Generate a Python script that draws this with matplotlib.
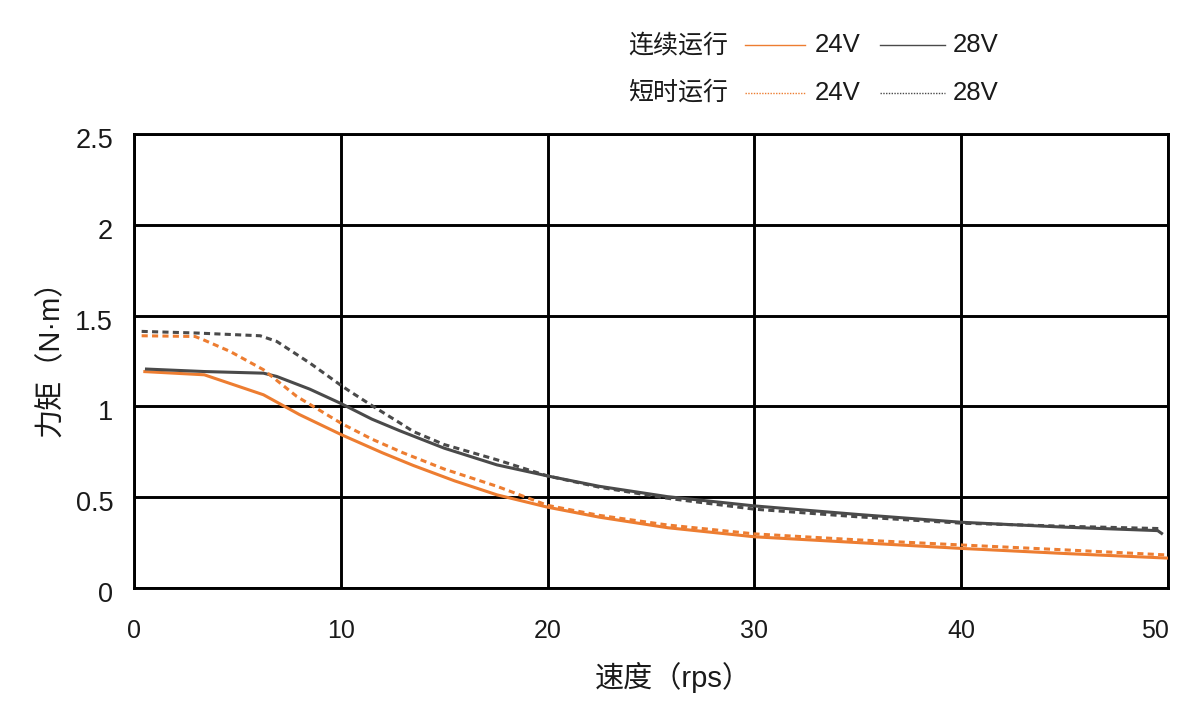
import matplotlib
matplotlib.use("Agg")
import matplotlib.pyplot as plt
from matplotlib.lines import Line2D
from matplotlib.transforms import ScaledTranslation

plt.rcParams['font.family'] = ['Liberation Sans', 'Noto Sans CJK SC', 'DejaVu Sans']

# ---- data (speed in rps, torque in N·m) ----
cont24_x = [0.45, 3.4, 6.26, 8.0, 10.05, 12.0, 13.5, 15.5, 17.55, 20.0, 22.5, 25.8, 30.0, 35.0, 40.0, 45.0, 50.3]
cont24_y = [1.192, 1.174, 1.064, 0.955, 0.843, 0.745, 0.675, 0.59, 0.513, 0.445, 0.39, 0.332, 0.282, 0.25, 0.218, 0.19, 0.163]

cont28_x = [0.53, 3.4, 6.26, 6.9, 8.5, 9.97, 11.5, 12.87, 15.0, 17.55, 20.0, 22.5, 25.8, 30.0, 35.0, 40.0, 45.0, 49.5, 49.75]
cont28_y = [1.206, 1.192, 1.183, 1.165, 1.095, 1.018, 0.93, 0.865, 0.77, 0.678, 0.617, 0.56, 0.503, 0.452, 0.405, 0.362, 0.335, 0.316, 0.296]

short24_x = [0.37, 2.95, 3.35, 4.64, 6.26, 7.87, 9.48, 10.05, 11.5, 13.0, 15.0, 17.55, 20.0, 22.5, 25.8, 30.0, 35.0, 40.0, 45.0, 50.3]
short24_y = [1.389, 1.385, 1.367, 1.303, 1.202, 1.055, 0.944, 0.905, 0.82, 0.745, 0.655, 0.56, 0.455, 0.4, 0.347, 0.298, 0.265, 0.237, 0.21, 0.18]

short28_x = [0.37, 3.03, 6.1, 6.9, 8.5, 9.97, 10.45, 11.58, 12.87, 13.5, 15.0, 17.55, 20.0, 22.5, 25.8, 30.0, 35.0, 40.0, 45.0, 49.7]
short28_y = [1.413, 1.404, 1.389, 1.358, 1.239, 1.119, 1.082, 0.999, 0.908, 0.862, 0.79, 0.706, 0.617, 0.555, 0.494, 0.434, 0.392, 0.357, 0.34, 0.327]

x_ticks = [0, 10, 20, 30, 40, 50]
y_ticks = [0, 0.5, 1, 1.5, 2, 2.5]
y_tick_labels = ['0', '0.5', '1', '1.5', '2', '2.5']

ORANGE = '#ED7D31'
GRAY = '#4A4A4A'
TXT = '#1a1a1a'

fig = plt.figure(figsize=(12, 7.14), dpi=100)
ax = fig.add_axes([134/1200, 1 - 588/714, (1168-134)/1200, (588-134)/714])

lw = 2.2
ax.plot(cont24_x, cont24_y, color=ORANGE, lw=lw, solid_capstyle='butt', zorder=3)
ax.plot(cont28_x, cont28_y, color=GRAY, lw=lw, solid_capstyle='butt', zorder=3)
ax.plot(short24_x, short24_y, color=ORANGE, lw=lw, linestyle=(0, (2.0, 1.4)), zorder=3)
ax.plot(short28_x, short28_y, color=GRAY, lw=lw, linestyle=(0, (2.0, 1.4)), zorder=3)

ax.set_xlim(0, 50)
ax.set_ylim(0, 2.5)
ax.set_xticks(x_ticks)
ax.set_yticks(y_ticks)
ax.set_yticklabels(y_tick_labels)
ax.grid(True, color='black', lw=2.1, zorder=1)
ax.set_axisbelow(True)
for s in ax.spines.values():
    s.set_color('black')
    s.set_linewidth(2.1)
ax.tick_params(axis='x', length=0, pad=22, labelsize=18, colors=TXT)
ax.tick_params(axis='y', length=0, pad=15, labelsize=19.5, colors=TXT)
for lab in ax.get_yticklabels():
    lab.set_transform(lab.get_transform() + ScaledTranslation(0, -4/100, fig.dpi_scale_trans))
xl = ax.get_xticklabels()
xl[-1].set_transform(xl[-1].get_transform() + ScaledTranslation(-13/100, 0, fig.dpi_scale_trans))
ax.set_xlabel('速度（rps）', fontsize=21, labelpad=14, color=TXT)
ax.set_ylabel('力矩（N·m）', fontsize=21, labelpad=8, color=TXT)
ax.xaxis.label.set_x(0.522)
ax.yaxis.label.set_y(0.522)

# ---- legend (manual, figure coordinates) ----
def fy(py):
    return 1 - py / 714

def fx(px):
    return px / 1200

rows = [(45, '连续运行', '-'), (93, '短时运行', (0, (1, 1)))]
for py, label, ls in rows:
    fig.text(fx(628), fy(py), label, fontsize=18, va='center', ha='left', color=TXT)
    fig.add_artist(Line2D([fx(745), fx(805)], [fy(py), fy(py)], color=ORANGE, lw=1.0, linestyle=ls))
    fig.text(fx(815), fy(py), '24V', fontsize=18.5, va='center', ha='left', color=TXT)
    fig.add_artist(Line2D([fx(880), fx(945)], [fy(py), fy(py)], color=GRAY, lw=1.0, linestyle=ls))
    fig.text(fx(953), fy(py), '28V', fontsize=18.5, va='center', ha='left', color=TXT)

fig.savefig('out.png', dpi=100)
